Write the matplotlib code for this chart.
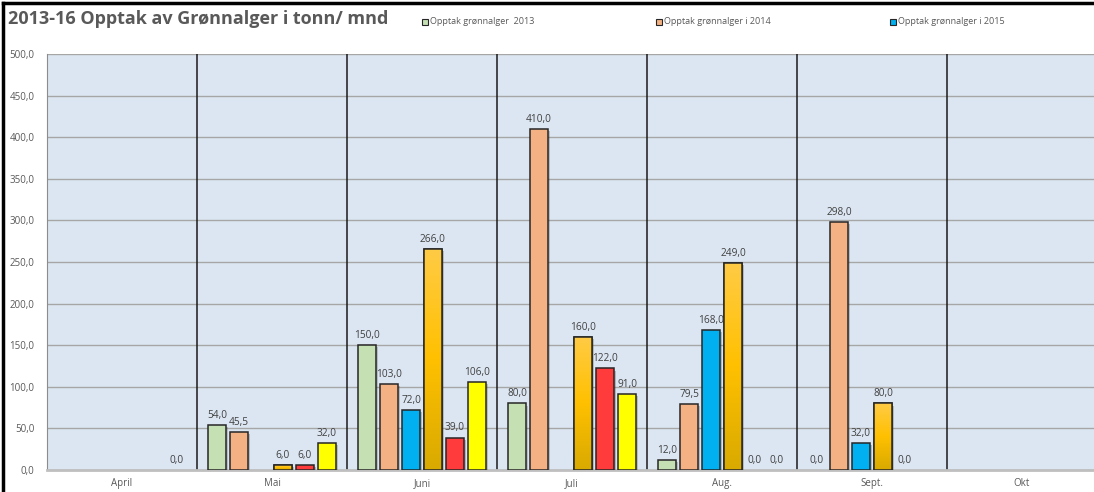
import numpy as np
import matplotlib
matplotlib.use("Agg")
from matplotlib import pyplot as plt
from matplotlib import patheffects as pe
from matplotlib.lines import Line2D
from matplotlib.patches import Rectangle
from matplotlib.ticker import FuncFormatter, MultipleLocator

nan = np.nan
months = ["April", "Mai", "Juni", "Juli", "Aug.", "Sept.", "Okt"]
s2013 = [nan, 54.0, 150.0, 80.0, 12.0, 0.0, nan]
s2014 = [nan, 45.5, 103.0, 410.0, 79.5, 298.0, nan]
s2015 = [nan, nan, 72.0, nan, 168.0, 32.0, nan]
s_gold = [nan, 6.0, 266.0, 160.0, 249.0, 80.0, nan]
s_red = [nan, 6.0, 39.0, 122.0, 0.0, 0.0, nan]
s_yellow = [0.0, 32.0, 106.0, 91.0, 0.0, nan, nan]
legend_names = ["Opptak grønnalger  2013", "Opptak grønnalger i 2014", "Opptak grønnalger i 2015"]

series = [s2013, s2014, s2015, s_gold, s_red, s_yellow]
colors = ["#c5e0b3", "#f4b183", "#00b0f0", "#ffc000", "#ff3b3b", "#ffff00"]

plt.rcParams['font.family'] = ['Open Sans', 'DejaVu Sans']

W, H = 1094, 492
fig = plt.figure(figsize=(W / 100, H / 100), dpi=100)
ax = fig.add_axes([47 / W, 1 - 470 / H, (1097 - 47) / W, (470 - 54) / H])
ax.set_facecolor("#dce6f2")

x = np.arange(len(months))
width = 0.12
step = 22 / 150
shadow = [pe.SimplePatchShadow(offset=(1.5, -1.5), alpha=0.25), pe.Normal()]
cmap = matplotlib.colors.LinearSegmentedColormap.from_list(
    "g", ["#d9aa00", "#ffc000", "#ffcb45"])

for i, (vals, col) in enumerate(zip(series, colors)):
    pos = x + (i - 2.5) * step
    v = np.array(vals, dtype=float)
    bars = ax.bar(pos, np.nan_to_num(v), width, color=col, edgecolor="#262626",
                  linewidth=1.1, zorder=3)
    for b, val in zip(bars, v):
        if np.isnan(val) or val == 0:
            b.set_visible(False)
        if np.isnan(val):
            continue
        if val > 0:
            b.set_path_effects(shadow)
        if i == 3 and val > 0:
            # gold bars have a vertical gradient
            grad = np.linspace(0, 1, 100).reshape(-1, 1)
            im = ax.imshow(grad, extent=[b.get_x(), b.get_x() + width, 0, val],
                           origin="lower", aspect="auto", cmap=cmap, zorder=3.5)
            im.set_clip_path(b)
            ax.add_patch(Rectangle((b.get_x(), 0), width, val, fill=False,
                                   edgecolor="#262626", linewidth=1.1, zorder=4))
        ax.annotate(f"{val:.1f}".replace(".", ","), (b.get_x() + width / 2, val),
                    xytext=(0, 3), textcoords="offset points", ha="center",
                    va="bottom", fontsize=7.3, color="#404040", zorder=5)

ax.set_xlim(-0.5, len(months) - 0.5)
ax.set_ylim(0, 500)
ax.yaxis.set_major_locator(MultipleLocator(50))
ax.yaxis.set_major_formatter(FuncFormatter(lambda v, p: f"{v:.1f}".replace(".", ",")))
ax.set_xticks(x)
ax.set_xticklabels(months)
ax.tick_params(axis="both", length=0, labelsize=7, labelcolor="#595959")
ax.tick_params(axis="y", pad=9)
ax.tick_params(axis="x", pad=6)
ax.grid(axis="y", color="#a6a6a6", linewidth=1.0, zorder=1)
ax.set_axisbelow(True)
for k in range(len(months) - 1):
    ax.axvline(k + 0.5, color="#1a1a1a", linewidth=1.1, zorder=2)
for s in ["top", "right"]:
    ax.spines[s].set_visible(False)
ax.spines["left"].set_color("#8c8c8c")
ax.spines["bottom"].set_color("#bfbfbf")
ax.spines["bottom"].set_linewidth(2)

fig.text(8 / W, 1 - 19 / H, "2013-16 Opptak av Grønnalger i tonn/ mnd", fontsize=13,
         fontweight="bold", color="#595959", va="center", ha="left")

leg_x = [425, 659, 893]
for lx, name, col in zip(leg_x, legend_names, colors):
    fig.patches.append(Rectangle(((lx - 3) / W, 1 - 25 / H), 6 / W, 6 / H,
                                 transform=fig.transFigure, facecolor=col,
                                 edgecolor="#262626", linewidth=0.8))
    fig.text((lx + 5) / W, 1 - 22 / H, name, fontsize=6.5, color="#595959",
             va="center", ha="left")

fig.add_artist(Line2D([3 / W, 3 / W], [0, 1 - 3 / H], transform=fig.transFigure,
                      color="black", linewidth=2.5))
fig.add_artist(Line2D([3 / W, 1], [1 - 3 / H, 1 - 3 / H], transform=fig.transFigure,
                      color="black", linewidth=2.5))

fig.savefig("out.png", dpi=100)
